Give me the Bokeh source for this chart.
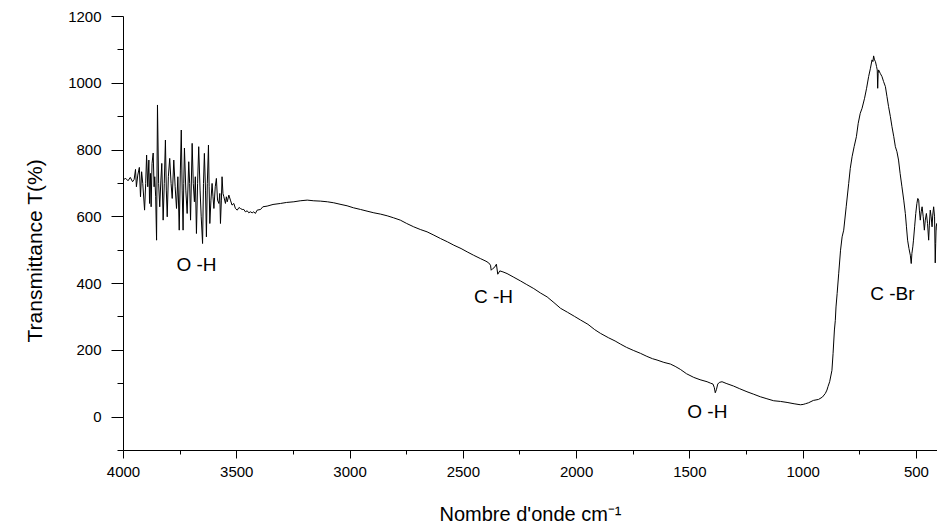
import math
from bokeh.plotting import figure
from bokeh.models import Range1d, FixedTicker, Title, ColumnDataSource
from bokeh.core.properties import value
from bokeh.embed import file_html
from bokeh.resources import INLINE

# ---- data ----
wavenumber = [
    4000, 3990, 3980, 3970, 3960, 3953, 3947, 3943, 3937, 3930, 3925, 3920, 3915, 3907, 3902,
    3898, 3893, 3888, 3885, 3881, 3878, 3874, 3869, 3865, 3862, 3858, 3854, 3850, 3845, 3840,
    3835, 3831, 3825, 3820, 3815, 3811, 3807, 3802, 3796, 3790, 3785, 3778, 3772, 3766, 3760,
    3754, 3749, 3745, 3741, 3737, 3734, 3731, 3725, 3719, 3712, 3708, 3704, 3697, 3692, 3687,
    3683, 3678, 3673, 3668, 3662, 3657, 3651, 3647, 3643, 3638, 3634, 3630, 3625, 3622, 3619,
    3614, 3609, 3605, 3601, 3595, 3590, 3585, 3579, 3575, 3572, 3568, 3565, 3561, 3557, 3550,
    3546, 3542, 3535, 3528, 3521, 3513, 3506, 3498, 3490, 3484, 3476, 3469, 3462, 3454, 3447,
    3440, 3432, 3425, 3418, 3410, 3395, 3385, 3366, 3340, 3307, 3280, 3248, 3220, 3189, 3160,
    3131, 3100, 3072, 3040, 3013, 2985, 2954, 2925, 2895, 2865, 2836, 2808, 2778, 2750, 2719,
    2690, 2660, 2630, 2601, 2570, 2542, 2510, 2483, 2455, 2425, 2400, 2388, 2380, 2377, 2370,
    2363, 2354, 2348, 2339, 2325, 2307, 2280, 2248, 2220, 2189, 2160, 2130, 2100, 2071, 2040,
    2010, 1983, 1950, 1920, 1895, 1860, 1830, 1807, 1780, 1750, 1718, 1690, 1665, 1645, 1615,
    1586, 1565, 1542, 1515, 1483, 1455, 1424, 1410, 1398, 1392, 1388, 1383, 1377, 1370, 1358,
    1340, 1307, 1280, 1248, 1220, 1189, 1160, 1130, 1100, 1071, 1040, 1012, 1000, 990, 976,
    955, 932, 915, 902, 895, 890, 883, 873, 868, 862, 858, 855, 850, 843, 835,
    828, 821, 810, 799, 792, 784, 775, 765, 757, 748, 740, 729, 720, 711, 703,
    696, 692, 689, 685, 681, 676, 673, 671, 669, 667, 660, 652, 645, 637, 630,
    623, 615, 608, 600, 593, 586, 579, 572, 564, 556, 549, 544, 539, 533, 527,
    523, 520, 516, 513, 508, 503, 498, 494, 490, 487, 483, 479, 475, 470, 465,
    461, 456, 451, 446, 443, 439, 435, 431, 428, 424, 420, 417, 415, 413, 410,
    408,
]
transmittance = [
    712, 715, 708, 718, 705, 712, 742, 690, 725, 748, 660, 735, 700, 620, 700,
    785, 690, 770, 640, 730, 630, 760, 791, 690, 720, 660, 530, 935, 700, 630,
    710, 760, 590, 700, 830, 680, 600, 720, 775, 700, 655, 770, 690, 625, 720,
    560, 740, 860, 680, 560, 700, 806, 680, 610, 765, 700, 590, 820, 700, 645,
    720, 550, 700, 810, 680, 600, 520, 700, 790, 680, 540, 700, 815, 690, 580,
    650, 700, 660, 625, 690, 715, 650, 640, 670, 580, 650, 720, 670, 660, 640,
    660, 645, 665, 650, 635, 640, 625, 620, 628, 625, 622, 622, 615, 618, 612,
    615, 612, 615, 610, 620, 622, 630, 632, 637, 640, 643, 645, 648, 650, 648,
    647, 645, 642, 637, 633, 627, 622, 617, 612, 608, 603, 597, 590, 580, 570,
    562, 555, 545, 535, 525, 515, 505, 495, 485, 475, 467, 462, 455, 440, 445,
    448, 458, 428, 438, 435, 430, 420, 408, 397, 385, 372, 360, 343, 326, 314,
    302, 291, 278, 262, 251, 238, 228, 219, 209, 200, 191, 182, 175, 171, 164,
    159, 152, 143, 130, 119, 112, 106, 102, 99, 88, 73, 82, 99, 104, 106,
    101, 93, 85, 76, 69, 61, 55, 49, 47, 44, 40, 37, 38, 40, 43,
    50, 53, 60, 71, 81, 92, 106, 140, 190, 261, 290, 330, 370, 431, 500,
    540, 560, 630, 700, 745, 780, 810, 840, 880, 910, 925, 955, 985, 1020, 1045,
    1070, 1065, 1082, 1070, 1065, 1050, 1040, 985, 1030, 1040, 1030, 1020, 1005, 990, 960,
    930, 900, 870, 840, 810, 795, 770, 730, 690, 650, 610, 570, 530, 505, 485,
    460, 490, 510, 530, 570, 610, 640, 655, 650, 620, 590, 615, 630, 600, 560,
    590, 610, 580, 530, 575, 620, 600, 570, 605, 630, 600, 462, 520, 570, 580,
    560,
]

x_ticks = [4000, 3500, 3000, 2500, 2000, 1500, 1000, 500]
x_minor = [3750, 3250, 2750, 2250, 1750, 1250, 750]
y_ticks = [0, 200, 400, 600, 800, 1000, 1200]
y_minor = [-100, 100, 300, 500, 700, 900, 1100]

band_labels = ["O -H", "C -H", "O -H", "C -Br"]
band_x = [3678, 2367, 1423, 606]
band_y = [458, 360, 18, 371]

x_title = "Nombre d'onde cm\u207b\u00b9"
y_title = "Transmittance T(%)"

FONT = "Liberation Sans"

p = figure(width=937, height=528, output_backend="svg", toolbar_location=None,
           x_range=Range1d(4000, 407), y_range=Range1d(-100, 1200),
           min_border_left=123, min_border_right=0, min_border_top=16, min_border_bottom=78)
p.outline_line_color = None
p.xgrid.visible = False
p.ygrid.visible = False
p.background_fill_color = "white"
p.border_fill_color = "white"

p.line(wavenumber, transmittance, line_color="black", line_width=1)

for ax, ticks, minor, tout, mout in ((p.xaxis[0], x_ticks, x_minor, 8, 4),
                                     (p.yaxis[0], y_ticks, y_minor, 12, 6)):
    ax.ticker = FixedTicker(ticks=ticks, minor_ticks=minor)
    ax.axis_line_color = "black"
    ax.axis_line_width = 1
    ax.major_tick_line_color = "black"
    ax.minor_tick_line_color = "black"
    ax.major_tick_in = 0
    ax.minor_tick_in = 0
    ax.major_tick_out = tout
    ax.minor_tick_out = mout
    ax.major_label_text_font = FONT
    ax.major_label_text_font_size = "15px"
    ax.major_label_text_color = "black"

p.yaxis[0].major_label_standoff = 10
p.xaxis[0].major_label_standoff = 8

p.xaxis[0].axis_label = x_title
p.xaxis[0].axis_label_text_font = FONT
p.xaxis[0].axis_label_text_font_size = "20px"
p.xaxis[0].axis_label_text_font_style = "normal"
p.xaxis[0].axis_label_text_color = "black"
p.xaxis[0].axis_label_standoff = 23

p.add_layout(Title(text=y_title, align="left", offset=108, standoff=40, text_font=FONT,
                   text_font_size="21px", text_font_style="normal", text_color="black"),
             "left")

src = ColumnDataSource(dict(x=band_x, y=band_y, t=band_labels))
p.text(x="x", y="y", text="t", source=src, text_align="center", text_baseline="middle",
       text_font=value(FONT), text_font_size="19px", text_color="black")

open("out.html", "w").write(file_html(p, INLINE))
